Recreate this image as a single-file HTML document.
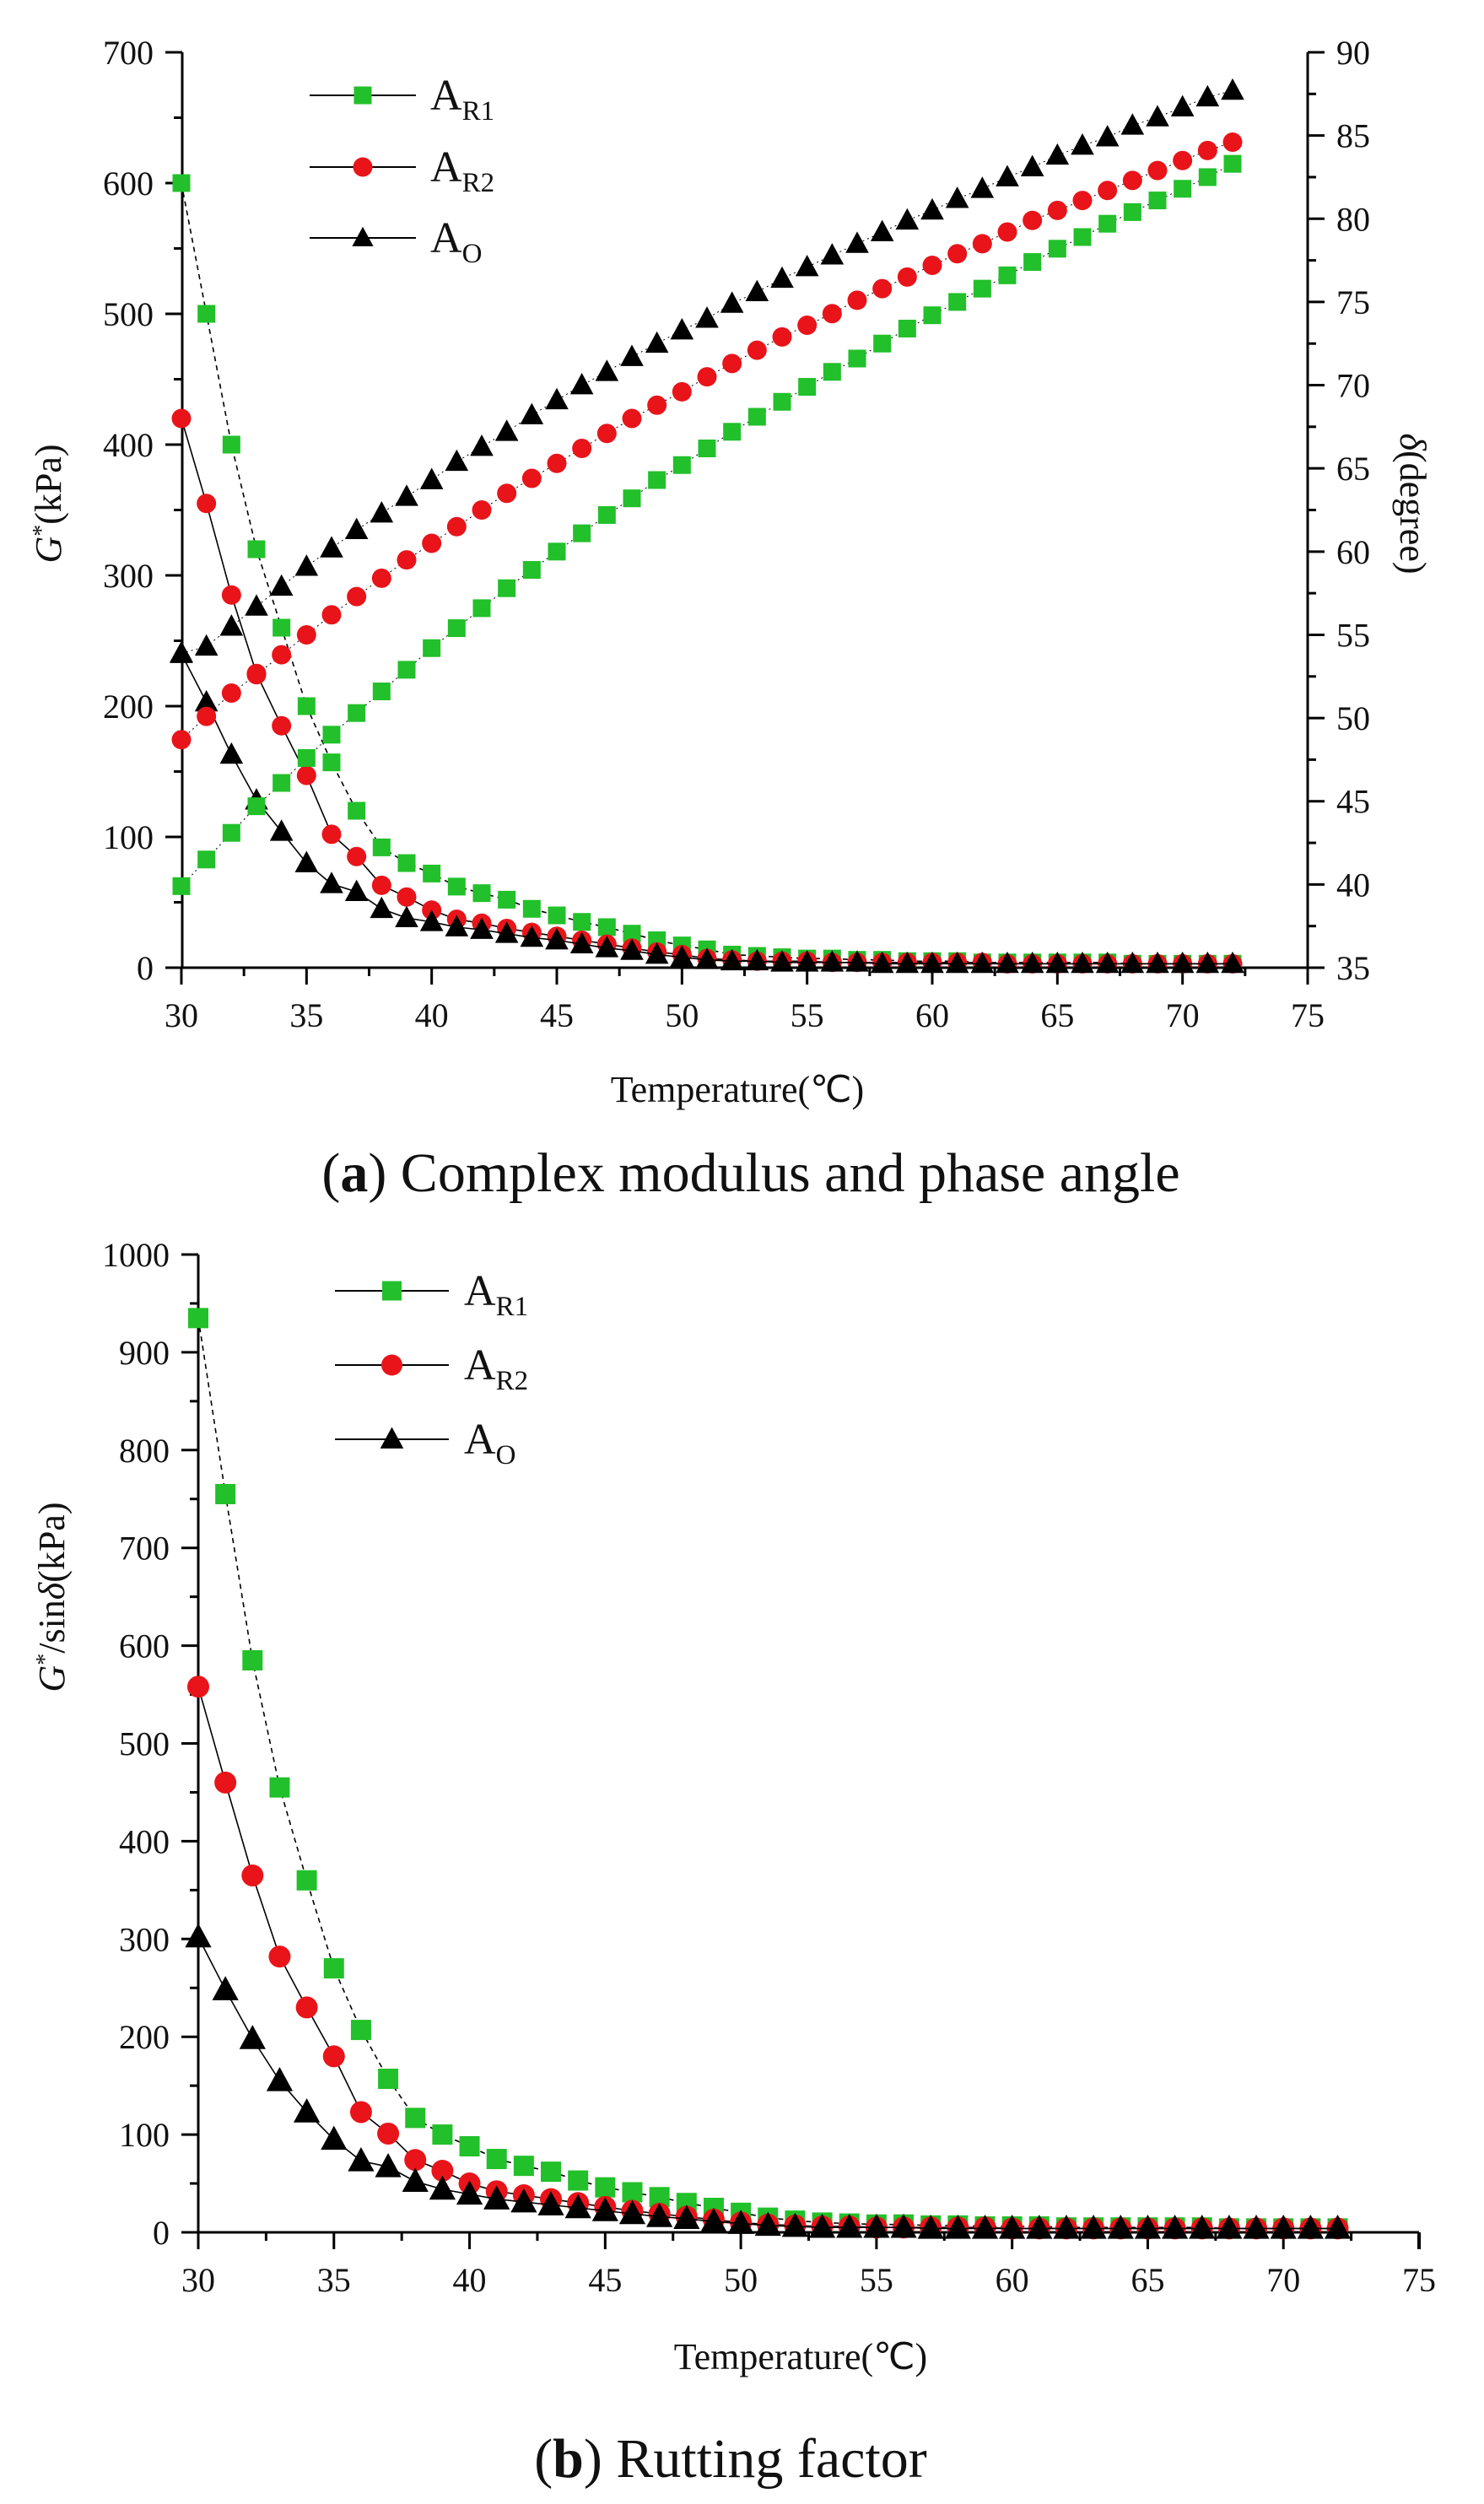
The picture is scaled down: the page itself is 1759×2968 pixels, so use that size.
<!DOCTYPE html>
<html><head><meta charset="utf-8">
<style>
html,body{margin:0;padding:0;background:#fff;}
svg{display:block;}
text{font-family:"Liberation Serif",serif;fill:#111;}
</style></head>
<body>
<svg id="fig" width="1759" height="2968" viewBox="0 0 1759 2968" xmlns="http://www.w3.org/2000/svg">
<g id="ga"></g>
<g id="gb"></g>
<text x="890" y="1412" text-anchor="middle" font-size="66"><tspan>(</tspan><tspan font-weight="bold">a</tspan>) Complex modulus and phase angle</text>
<text x="866" y="2936" text-anchor="middle" font-size="66"><tspan>(</tspan><tspan font-weight="bold">b</tspan>) Rutting factor</text>
</svg>
<script>
const temps = [30,31,32,33,34,35,36,37,38,39,40,41,42,43,44,45,46,47,48,49,50,51,52,53,54,55,56,57,58,59,60,61,62,63,64,65,66,67,68,69,70,71,72];
const gAR1 = [600,500,400,320,260,200,157,120,92,80,72,62,57,52,45,40,35,31,26,21,17,14,10,9,8,7,7,6,6,5,5,5,4,4,4,4,4,4,3,3,3,3,3];
const gAR2 = [420,355,285,225,185,147,102,85,63,54,44,37,34,30,27,24,21,18,15,12,10,7,6,5,5,5,4,4,4,4,4,4,4,3,3,3,3,3,3,3,3,3,3];
const gAO  = [240,203,163,128,104,80,64,58,45,38,35,31,29,26,23,21,18,15,13,10,8,6,5,5,4,4,4,4,3,3,3,3,3,3,3,3,3,3,3,3,3,3,3];
const dAR1 = [39.9,41.5,43.1,44.7,46.1,47.6,49.0,50.3,51.6,52.9,54.2,55.4,56.6,57.8,58.9,60.0,61.1,62.2,63.2,64.3,65.2,66.2,67.2,68.1,69.0,69.9,70.8,71.6,72.5,73.4,74.2,75.0,75.8,76.6,77.4,78.2,78.9,79.7,80.4,81.1,81.8,82.5,83.3];
const dAR2 = [48.7,50.1,51.5,52.6,53.8,55.0,56.2,57.3,58.4,59.5,60.5,61.5,62.5,63.5,64.4,65.3,66.2,67.1,68.0,68.8,69.6,70.5,71.3,72.1,72.9,73.6,74.3,75.1,75.8,76.5,77.2,77.9,78.5,79.2,79.9,80.5,81.1,81.7,82.3,82.9,83.5,84.1,84.6];
const dAO  = [53.9,54.3,55.5,56.7,57.9,59.1,60.2,61.3,62.3,63.3,64.3,65.4,66.3,67.2,68.2,69.1,70.0,70.8,71.7,72.5,73.3,74.0,74.9,75.6,76.4,77.1,77.8,78.5,79.2,79.9,80.5,81.2,81.8,82.5,83.1,83.8,84.4,84.9,85.6,86.1,86.7,87.3,87.7];
const rAR1 = [935,755,585,455,360,270,207,157,117,100,88,75,68,62,53,46,41,36,30,25,20,15,12,10,9,8,8,7,7,6,6,6,5,5,5,5,5,5,4,4,4,4,4];
const rAR2 = [558,460,365,282,230,180,123,101,74,63,50,42,38,34,30,26,22,19,16,13,10,8,7,6,6,5,5,5,5,5,4,4,4,4,4,4,4,4,4,4,4,4,4];
const rAO  = [302,248,198,155,123,95,73,67,52,44,39,34,31,28,25,22,19,16,14,11,9,7,6,5,5,5,5,4,4,4,4,4,4,4,4,4,4,4,4,4,4,4,4];
const xTicks = [30,35,40,45,50,55,60,65,70,75];
const yTicksA = [0,100,200,300,400,500,600,700];
const yTicksR = [35,40,45,50,55,60,65,70,75,80,85,90];
const yTicksB = [0,100,200,300,400,500,600,700,800,900,1000];

const NS='http://www.w3.org/2000/svg';
function mk(parent, tag, attrs){const e=document.createElementNS(NS,tag);for(const k in attrs)e.setAttribute(k,attrs[k]);parent.appendChild(e);return e;}
function lin(d0,d1,p0,p1){return v=>p0+(v-d0)*(p1-p0)/(d1-d0);}
const COL={AR1:'#22c02a',AR2:'#e8141a',AO:'#000'};

function marker(g,type,cx,cy,s){
  let e;
  if(type==='AR1'){e=mk(g,'rect',{x:cx-s/2,y:cy-s/2,width:s,height:s,fill:COL.AR1});}
  else if(type==='AR2'){e=mk(g,'circle',{cx:cx,cy:cy,r:s/2+1,fill:COL.AR2});}
  else {const h=s*1.05;e=mk(g,'polygon',{points:`${cx},${cy-h*0.6} ${cx-s*0.6},${cy+h*0.45} ${cx+s*0.6},${cy+h*0.45}`,fill:'#000'});}
  return e;
}
function series(g,name,xs,ys,X,Y,s,dash,lw){
  const sg=mk(g,'g',{});
  
  
  const pts=xs.map((x,i)=>X(x).toFixed(1)+','+Y(ys[i]).toFixed(1)).join(' ');
  mk(sg,'polyline',{points:pts,fill:'none',stroke:'#000','stroke-width':lw||1.6,'stroke-dasharray':dash||'none'});
  xs.forEach((x,i)=>{
    const m=marker(sg,name.split('-')[0],X(x),Y(ys[i]),s);
    
    
  });
}
function legend(g,lx0,lx1,tx,rows,s,fs){
  const names=['AR1','AR2','AO'];const subs=['R1','R2','O'];
  rows.forEach((y,i)=>{
    const lg=mk(g,'g',{});
    
    
    mk(lg,'line',{x1:lx0,x2:lx1,y1:y,y2:y,stroke:'#000','stroke-width':2});
    marker(lg,names[i],(lx0+lx1)/2,y,s);
    const t=mk(lg,'text',{x:tx,y:y+17,'font-size':fs});
    t.innerHTML='A<tspan font-size="'+Math.round(fs*0.64)+'" dy="12">'+subs[i]+'</tspan>';
  });
}
function xAxis(g,X,y,x0,x1){
  const ax=mk(g,'g',{});
  
  
  mk(ax,'line',{x1:x0,x2:x1,y1:y,y2:y,stroke:'#000','stroke-width':3});
  xTicks.forEach((v,i)=>{
    mk(ax,'line',{x1:X(v),x2:X(v),y1:y,y2:y+20,stroke:'#000','stroke-width':3});
    if(i<xTicks.length-1)mk(ax,'line',{x1:X(v+2.5),x2:X(v+2.5),y1:y,y2:y+10,stroke:'#000','stroke-width':3});
    const t=mk(ax,'text',{x:X(v),y:y+70,'text-anchor':'middle','font-size':40});t.textContent=v;
  });
}
function yAxis(g,Y,ticks,x,top,bot,side,minorStep,labelName){
  const ax=mk(g,'g',{});
  
  
  mk(ax,'line',{x1:x,x2:x,y1:top,y2:bot,stroke:'#000','stroke-width':3});
  const d=side==='left'?-1:1;
  ticks.forEach((v,i)=>{
    mk(ax,'line',{x1:x,x2:x+d*20,y1:Y(v),y2:Y(v),stroke:'#000','stroke-width':3});
    if(i<ticks.length-1)mk(ax,'line',{x1:x,x2:x+d*10,y1:Y(v+minorStep),y2:Y(v+minorStep),stroke:'#000','stroke-width':3});
    const t=mk(ax,'text',{x:side==='left'?x-34:x+34,y:Y(v)+14,'text-anchor':side==='left'?'end':'start','font-size':40});t.textContent=v;
  });
}

// Chart A
(function(){
  const g=document.getElementById('ga');
  const X=lin(30,75,215,1550), Y=lin(0,700,1147,62), YR=lin(35,90,1147,62);
  xAxis(g,X,1147,200,1562);
  yAxis(g,Y,yTicksA,216,62,1147,'left',50,'y-axis-left');
  yAxis(g,YR,yTicksR,1550,62,1147,'right',2.5,'y-axis-right');
  series(g,'AR1-gstar',temps,gAR1,X,Y,21,'6,5');
  series(g,'AR2-gstar',temps,gAR2,X,Y,21,'none');
  series(g,'AO-gstar',temps,gAO,X,Y,23,'none');
  series(g,'AR1-delta',temps,dAR1,X,YR,21,'2,4',1);
  series(g,'AR2-delta',temps,dAR2,X,YR,21,'2,4',1);
  series(g,'AO-delta',temps,dAO,X,YR,23,'2,4',1);
  legend(g,367,493,510,[113,198,282],21,52);
  let t=mk(g,'text',{x:874,y:1306,'text-anchor':'middle','font-size':44});t.textContent='Temperature(℃)';
  
  t=mk(g,'text',{transform:'translate(72,597) rotate(-90)','text-anchor':'middle','font-size':44});
  t.innerHTML='<tspan font-style="italic">G</tspan><tspan dy="-14" font-size="28">*</tspan><tspan dy="14">(kPa)</tspan>';
  
  t=mk(g,'text',{transform:'translate(1660,597) rotate(90)','text-anchor':'middle','font-size':44});
  t.innerHTML='<tspan font-style="italic">δ</tspan>(degree)';
  
})();

// Chart B
(function(){
  const g=document.getElementById('gb');
  const X=lin(30,75,235,1682), Y=lin(0,1000,2646,1487);
  xAxis(g,X,2646,218,1682);
  mk(g,'line',{x1:1682,x2:1682,y1:2646,y2:2666,stroke:'#000','stroke-width':4});
  yAxis(g,Y,yTicksB,235,1487,2646,'left',50,'y-axis-b');
  series(g,'AR1-rut',temps,rAR1,X,Y,24,'6,5');
  series(g,'AR2-rut',temps,rAR2,X,Y,24,'none');
  series(g,'AO-rut',temps,rAO,X,Y,26,'none');
  legend(g,397,532,550,[1530,1618,1706],23,52);
  let t=mk(g,'text',{x:949,y:2808,'text-anchor':'middle','font-size':44});t.textContent='Temperature(℃)';
  
  t=mk(g,'text',{transform:'translate(76,1893) rotate(-90)','text-anchor':'middle','font-size':44});
  t.innerHTML='<tspan font-style="italic">G</tspan><tspan dy="-14" font-size="28">*</tspan><tspan dy="14">/sin</tspan><tspan font-style="italic">δ</tspan>(kPa)';
  
})();
</script>
</body></html>
